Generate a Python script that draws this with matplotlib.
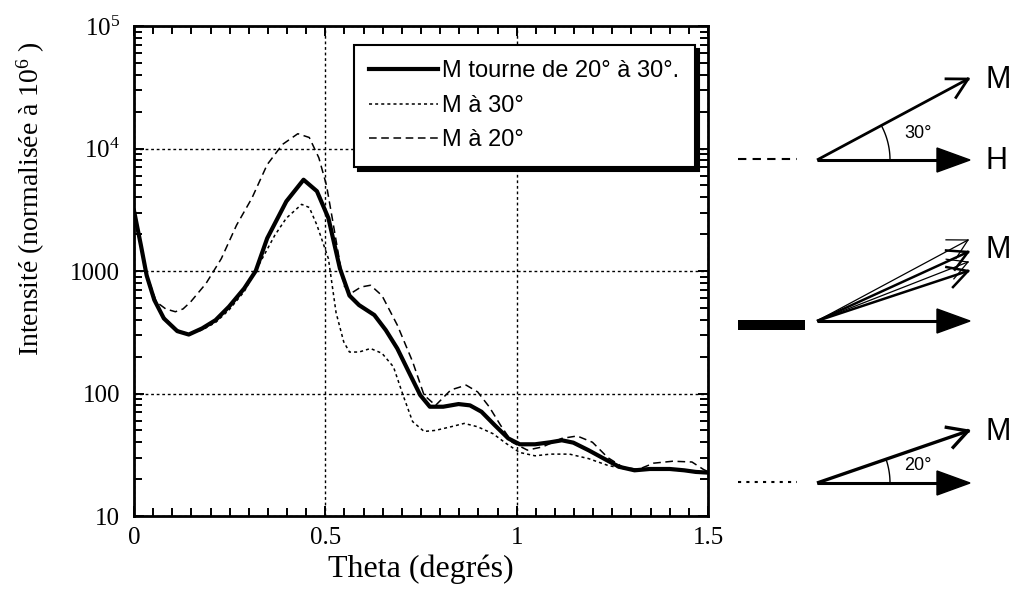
import numpy as np
import matplotlib.pyplot as plt
from matplotlib.ticker import FixedLocator, MultipleLocator, LogLocator, NullFormatter, FixedFormatter
from matplotlib.patches import Polygon

plt.rcParams['font.family'] = 'Liberation Serif'
plt.rcParams['mathtext.fontset'] = 'custom'
plt.rcParams['mathtext.rm'] = 'Liberation Serif'
plt.rcParams['mathtext.it'] = 'Liberation Serif:italic'

# M tourne de 20° à 30° (trait plein)
theta_rot = [0.0, 0.018, 0.033, 0.053, 0.078, 0.113, 0.143, 0.178, 0.213, 0.248, 0.288,
             0.318, 0.348, 0.398, 0.443, 0.478, 0.508, 0.538, 0.563, 0.588, 0.628, 0.658,
             0.688, 0.718, 0.748, 0.773, 0.808, 0.848, 0.878, 0.908, 0.943, 0.978, 1.008,
             1.048, 1.088, 1.118, 1.148, 1.188, 1.228, 1.268, 1.308, 1.348, 1.40, 1.438,
             1.468, 1.5]
int_rot = [3100, 1620, 920, 580, 410, 323, 303, 340, 397, 511, 721,
           1000, 1850, 3700, 5560, 4480, 2700, 1050, 630, 527, 437, 329,
           233, 150, 97, 78, 78, 82, 80, 71, 55, 43, 38.5,
           38.5, 40, 41.5, 39.7, 34.4, 29.4, 25.2, 23.6, 24.2, 24.2, 23.6,
           22.9, 22.6]

# M à 30° (pointillé)
theta_30 = [0.0, 0.018, 0.033, 0.053, 0.078, 0.113, 0.143, 0.178, 0.213, 0.248, 0.288,
            0.328, 0.368, 0.398, 0.438, 0.458, 0.478, 0.508, 0.528, 0.548, 0.563, 0.588,
            0.618, 0.648, 0.678, 0.703, 0.728, 0.758, 0.788, 0.828, 0.863, 0.898, 0.938,
            0.973, 1.008, 1.048, 1.088, 1.138, 1.188, 1.238, 1.288, 1.35, 1.42, 1.5]
int_30 = [3100, 1620, 920, 600, 420, 330, 305, 330, 380, 480, 680,
          1150, 1960, 2700, 3500, 3300, 2370, 1260, 457, 264, 218, 218,
          233, 213, 165, 97, 59, 49, 50, 53.5, 57, 53.5, 47,
          39, 33, 31, 32, 32, 29.4, 25.9, 24, 23.8, 23.6, 22.6]

# M à 20° (tirets)
theta_20 = [0.0, 0.018, 0.033, 0.058, 0.083, 0.108, 0.128, 0.148, 0.188, 0.228, 0.268,
            0.308, 0.348, 0.388, 0.428, 0.458, 0.483, 0.503, 0.518, 0.533, 0.548, 0.568,
            0.593, 0.618, 0.648, 0.688, 0.728, 0.758, 0.788, 0.828, 0.868, 0.898, 0.928,
            0.958, 0.988, 1.028, 1.068, 1.118, 1.158, 1.198, 1.238, 1.278, 1.318, 1.358,
            1.408, 1.458, 1.488, 1.5]
int_20 = [3100, 1620, 950, 560, 490, 465, 490, 560, 790, 1260, 2370,
          3930, 7390, 10800, 13200, 12300, 8400, 5000, 2700, 1440, 762, 660,
          740, 765, 630, 362, 182, 97, 80, 107, 117, 103, 78,
          55, 40, 34.5, 36.7, 43, 45, 40, 30, 25, 24, 27,
          28, 27.6, 24, 23]

x_ticks = [0, 0.5, 1, 1.5]
x_ticklabels = ['0', '0.5', '1', '1.5']
y_ticks = [10, 100, 1000, 1e4, 1e5]
y_ticklabels = ['10', '100', '1000', r'$10^4$', r'$10^5$']

fig = plt.figure(figsize=(10.1, 5.91), dpi=100)
ax = fig.add_axes([0.1327, 0.1269, 0.5683, 0.8291])

l1, = ax.plot(theta_rot, int_rot, color='k', lw=3.0, zorder=3)
l2, = ax.plot(theta_30, int_30, color='k', lw=1.1, ls=(0, (2, 2)), zorder=2)
l3, = ax.plot(theta_20, int_20, color='k', lw=1.1, ls=(0, (5, 3)), zorder=2)

ax.set_yscale('log')
ax.set_xlim(0, 1.5)
ax.set_ylim(10, 1e5)
ax.xaxis.set_major_locator(FixedLocator(x_ticks))
ax.xaxis.set_major_formatter(FixedFormatter(x_ticklabels))
ax.xaxis.set_minor_locator(MultipleLocator(0.05))
ax.yaxis.set_major_locator(FixedLocator(y_ticks))
ax.yaxis.set_major_formatter(FixedFormatter(y_ticklabels))
ax.yaxis.set_minor_locator(LogLocator(base=10, subs=np.arange(2, 10)))
ax.yaxis.set_minor_formatter(NullFormatter())

ax.tick_params(which='both', direction='in', top=True, right=True, labelsize=18, width=1.4)
ax.tick_params(which='major', length=7)
ax.tick_params(which='minor', length=5.5)
ax.tick_params(axis='x', which='major', pad=8)
ax.tick_params(axis='y', which='major', pad=10)
for s in ax.spines.values():
    s.set_linewidth(2)
ax.grid(True, which='major', color='k', lw=1.0, ls=(0, (2, 2)))

ax.set_xlabel('Theta (degrés)', fontsize=23, labelpad=4)
ax.set_ylabel('Intensité (normalisée à 10$^{6}$ )', fontsize=20)
ax.yaxis.set_label_coords(-0.152, 0.648)

leg = ax.legend([l1, l2, l3], ['M tourne de 20° à 30°.', 'M à 30°', 'M à 20°'],
                loc='upper right', bbox_to_anchor=(0.977, 0.961), borderaxespad=0,
                prop={'family': 'Liberation Sans', 'size': 17}, handlelength=2.9,
                handletextpad=0.2, fancybox=False, edgecolor='k', framealpha=1,
                shadow={'color': 'k', 'alpha': 1, 'ox': 3, 'oy': -3},
                labelspacing=0.53, borderpad=0.65)
leg.get_frame().set_linewidth(1.5)

# schéma des vecteurs à droite (coordonnées en pixels)
dg = fig.add_axes([0, 0, 1, 1], facecolor='none')
dg.set_xlim(0, 1010)
dg.set_ylim(591, 0)
dg.axis('off')


def filled_arrow(x0, y, x1):
    dg.plot([x0, x1 - 20], [y, y], color='k', lw=2.2, solid_capstyle='butt')
    dg.add_patch(Polygon([[x1, y], [x1 - 33, y - 12], [x1 - 33, y + 12]], closed=True, color='k'))


def open_arrow(x0, y0, x1, y1, lw):
    dg.plot([x0, x1], [y0, y1], color='k', lw=lw, solid_capstyle='butt')
    a = np.arctan2(y1 - y0, x1 - x0)
    for da in (0.5, -0.5):
        dg.plot([x1, x1 - 22 * np.cos(a + da)], [y1, y1 - 22 * np.sin(a + da)],
                color='k', lw=lw)


def angle_arc(x0, y0, x1, y1, r):
    a_end = np.arctan2(y0 - y1, x1 - x0)
    a = np.linspace(0, a_end, 30)
    dg.plot(x0 + r * np.cos(a), y0 - r * np.sin(a), color='k', lw=1.0)


ox = 817
# 30°
dg.plot([738, 797], [159, 159], color='k', lw=1.5, ls=(0, (4, 3)))
filled_arrow(ox, 160, 970)
open_arrow(ox, 160, 968, 79, 2.0)
angle_arc(ox, 160, 968, 79, 73)
dg.text(918, 134, '30°', family='Liberation Sans', size=13, ha='center', va='center')
dg.text(985, 80, 'M', family='Liberation Sans', size=22, ha='left', va='center')
dg.text(985, 161, 'H', family='Liberation Sans', size=22, ha='left', va='center')

# rotation
dg.plot([738, 805], [325, 325], color='k', lw=7.2, solid_capstyle='butt')
filled_arrow(ox, 321, 970)
for ty, w in zip([240, 252, 262, 271], [0.9, 1.8, 0.9, 1.8]):
    open_arrow(ox, 321, 968, ty, w)
dg.text(985, 250, 'M', family='Liberation Sans', size=22, ha='left', va='center')

# 20°
dg.plot([738, 797], [482, 482], color='k', lw=1.5, ls=(0, (1.5, 2.5)))
filled_arrow(ox, 483, 970)
open_arrow(ox, 483, 968, 431, 2.4)
angle_arc(ox, 483, 968, 431, 73)
dg.text(918, 465, '20°', family='Liberation Sans', size=13, ha='center', va='center')
dg.text(985, 432, 'M', family='Liberation Sans', size=22, ha='left', va='center')

fig.savefig('out.png', dpi=100)
